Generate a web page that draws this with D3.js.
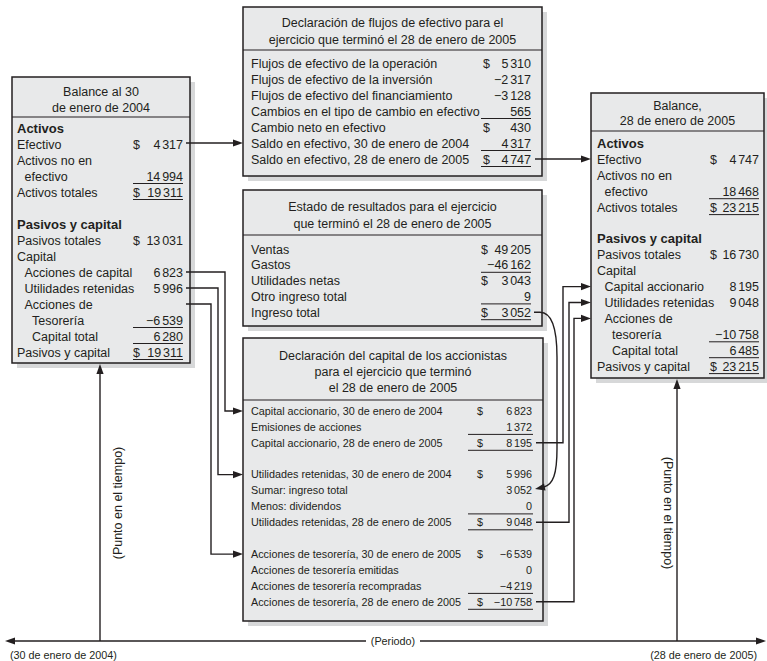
<!DOCTYPE html>
<html><head><meta charset="utf-8">
<script src="https://cdn.jsdelivr.net/npm/d3@7"></script>
<style>
body{margin:0;background:#fff}
svg{display:block}
text{font-family:Arial,"Liberation Sans",Helvetica,sans-serif;fill:#231f20}
.bold{font-family:"Liberation Sans Narrow","Arial Narrow",Arial,sans-serif;font-weight:bold}
</style>
</head><body>
<svg id="c" width="767" height="661"></svg>
<script>
// ================= DATA =================
const bal04Title  = ["Balance al 30", "de enero de 2004"];
const bal04Labels = ["Activos","Efectivo","Activos no en","efectivo","Activos totales","","Pasivos y capital","Pasivos totales","Capital","Acciones de capital","Utilidades retenidas","Acciones de","Tesorería","Capital total","Pasivos y capital"];
const bal04Values = [null,4317,null,14994,19311,null,null,13031,null,6823,5996,null,-6539,6280,19311];
const bal04Dollar = [0,1,0,0,1,0,0,1,0,0,0,0,0,0,1];
const bal04Under  = [0,0,0,1,1,0,0,0,0,0,0,0,1,1,1];
const bal04Indent = [0,0,0,1,0,0,0,0,0,1,1,1,2,2,0];
const bal04Bold   = [1,0,0,0,0,0,1,0,0,0,0,0,0,0,0];

const cashTitle  = ["Declaración de flujos de efectivo para el", "ejercicio que terminó el 28 de enero de 2005"];
const cashLabels = ["Flujos de efectivo de la operación","Flujos de efectivo de la inversión","Flujos de efectivo del financiamiento","Cambios en el tipo de cambio en efectivo","Cambio neto en efectivo","Saldo en efectivo, 30 de enero de 2004","Saldo en efectivo, 28 de enero de 2005"];
const cashValues = [5310,-2317,-3128,565,430,4317,4747];
const cashDollar = [1,0,0,0,1,0,1];
const cashUnder  = [0,0,0,1,0,1,1];

const incTitle  = ["Estado de resultados para el ejercicio", "que terminó el 28 de enero de 2005"];
const incLabels = ["Ventas","Gastos","Utilidades netas","Otro ingreso total","Ingreso total"];
const incValues = [49205,-46162,3043,9,3052];
const incDollar = [1,0,1,0,1];
const incUnder  = [0,1,0,1,1];

const eqTitle  = ["Declaración del capital de los accionistas", "para el ejercicio que terminó", "el 28 de enero de 2005"];
const eqLabels = ["Capital accionario, 30 de enero de 2004","Emisiones de acciones","Capital accionario, 28 de enero de 2005","","Utilidades retenidas, 30 de enero de 2004","Sumar: ingreso total","Menos: dividendos","Utilidades retenidas, 28 de enero de 2005","","Acciones de tesorería, 30 de enero de 2005","Acciones de tesorería emitidas","Acciones de tesorería recompradas","Acciones de tesorería, 28 de enero de 2005"];
const eqValues = [6823,1372,8195,null,5996,3052,0,9048,null,-6539,0,-4219,-10758];
const eqDollar = [1,0,1,0,1,0,0,1,0,1,0,0,1];
const eqUnder  = [0,1,1,0,0,0,1,1,0,0,0,1,1];

const bal05Title  = ["Balance,", "28 de enero de 2005"];
const bal05Labels = ["Activos","Efectivo","Activos no en","efectivo","Activos totales","","Pasivos y capital","Pasivos totales","Capital","Capital accionario","Utilidades retenidas","Acciones de","tesorería","Capital total","Pasivos y capital"];
const bal05Values = [null,4747,null,18468,23215,null,null,16730,null,8195,9048,null,-10758,6485,23215];
const bal05Dollar = [0,1,0,0,1,0,0,1,0,0,0,0,0,0,1];
const bal05Under  = [0,0,0,1,1,0,0,0,0,0,0,0,1,1,1];
const bal05Indent = [0,0,0,1,0,0,0,0,0,1,1,1,2,2,0];
const bal05Bold   = [1,0,0,0,0,0,1,0,0,0,0,0,0,0,0];

const timeLabels = ["(30 de enero de 2004)", "(Periodo)", "(28 de enero de 2005)"];
const pointLabel = "(Punto en el tiempo)";

// ================= DRAW =================
const svg = d3.select("#c");
const INK = "#231f20", FILL = "#e8e9ea", SHADOW = "#d7d8d9";
const intFmt = d3.format("d");

function setNum(t, v){
  const s = intFmt(Math.abs(v)), neg = v < 0 ? "\u2212" : "";
  if(s.length > 3){
    t.append("tspan").text(neg + s.slice(0, s.length-3));
    t.append("tspan").attr("dx", 1.8).text(s.slice(-3));
  } else t.text(neg + s);
}

function arrow(g, tx, ty, ang){
  const a = ang*Math.PI/180, L = 10, hw = 3.6;
  const bx = tx - L*Math.cos(a), by = ty - L*Math.sin(a);
  const px = -Math.sin(a)*hw, py = Math.cos(a)*hw;
  g.append("path").attr("d", `M${tx},${ty}L${bx+px},${by+py}L${bx-px},${by-py}Z`).attr("fill", INK);
}

function drawBox(c, title, labels, values, dollar, under, indent, bold){
  const g = svg.append("g");
  g.append("rect").attr("x", c.x+5).attr("y", c.y+5).attr("width", c.w).attr("height", c.h).attr("fill", SHADOW);
  g.append("rect").attr("x", c.x).attr("y", c.y).attr("width", c.w).attr("height", c.h)
    .attr("fill", FILL).attr("stroke", INK).attr("stroke-width", 1.5);
  g.append("line").attr("x1", c.x).attr("x2", c.x+c.w).attr("y1", c.sep).attr("y2", c.sep)
    .attr("stroke", INK).attr("stroke-width", 1.2);
  const ty = d3.scaleLinear().domain([0,1]).range([c.t0, c.t0+c.tdy]);
  g.selectAll(null).data(title).join("text")
    .attr("x", c.x + c.w/2).attr("y", (d,i)=>ty(i)+4.5).attr("text-anchor","middle")
    .style("font-size","12.5px").text(d=>d);
  const y = d3.scaleLinear().domain([0,1]).range([c.y0, c.y0+c.dy]);
  const fs = c.fs, base = fs*0.36;
  labels.forEach((lab,i)=>{
    if(lab){
      const t = g.append("text").attr("x", c.lx + (indent ? indent[i]*c.ind : 0)).attr("y", y(i)+base)
        .style("font-size", fs+"px").text(lab);
      if(bold && bold[i]) t.attr("class","bold").style("font-size", (fs+0.5)+"px");
    }
    if(values[i] !== null){
      const t = g.append("text").attr("x", c.vr).attr("y", y(i)+base).attr("text-anchor","end")
        .style("font-size", fs+"px");
      setNum(t, values[i]);
    }
    if(dollar[i]){
      g.append("text").attr("x", c.dx).attr("y", y(i)+base).style("font-size", fs+"px").text("$");
    }
    if(under[i]){
      g.append("line").attr("x1", c.u0).attr("x2", c.u1).attr("y1", y(i)+7.5).attr("y2", y(i)+7.5)
        .attr("stroke", INK).attr("stroke-width", 1);
    }
  });
  return y;
}

const B04 = {x:12, y:77, w:178, h:286, sep:117, t0:91.5, tdy:15.5, y0:128, dy:16, lx:17, ind:7.5, dx:133, vr:183, u0:133, u1:183, fs:12.5};
const CF  = {x:243, y:7, w:299, h:169, sep:50, t0:22.5, tdy:17, y0:63, dy:16, lx:251, dx:483, vr:531, u0:481, u1:531, fs:12.5};
const IS  = {x:243, y:190, w:299, h:136, sep:235, t0:206, tdy:17, y0:249, dy:15.8, lx:251, dx:481, vr:531, u0:481, u1:531, fs:12.5};
const EQ  = {x:243, y:338, w:300, h:283, sep:400, t0:355, tdy:16, y0:411, dy:15.9, lx:251, dx:477, vr:532, u0:468, u1:533, fs:10.8};
const B05 = {x:591, y:93, w:173, h:285, sep:131, t0:105, tdy:15.5, y0:143.5, dy:15.9, lx:597, ind:7.5, dx:710, vr:759, u0:709, u1:759, fs:12.5};

const y04 = drawBox(B04, bal04Title, bal04Labels, bal04Values, bal04Dollar, bal04Under, bal04Indent, bal04Bold);
const yCF = drawBox(CF, cashTitle, cashLabels, cashValues, cashDollar, cashUnder);
const yIS = drawBox(IS, incTitle, incLabels, incValues, incDollar, incUnder);
const yEQ = drawBox(EQ, eqTitle, eqLabels, eqValues, eqDollar, eqUnder);
const y05 = drawBox(B05, bal05Title, bal05Labels, bal05Values, bal05Dollar, bal05Under, bal05Indent, bal05Bold);

// ---------- connectors ----------
const gc = svg.append("g").attr("fill","none");
const LW = 1.4;
function poly(pts){
  gc.append("path").attr("d", d3.line()(pts)).attr("stroke", INK).attr("stroke-width", LW).attr("fill","none");
}
{
  const yy = yCF(5);
  poly([[186, yy],[CF.x-9, yy]]); arrow(gc, CF.x, yy, 0);
  const y2 = yCF(6);
  poly([[535, y2],[B05.x-9, y2]]); arrow(gc, B05.x, y2, 0);
}
[[9,0,225],[10,4,218],[11,9,211]].forEach(([a,b,xe])=>{
  const ya = y04(a), yb = yEQ(b);
  poly([[186, ya],[xe, ya],[xe, yb],[EQ.x-9, yb]]); arrow(gc, EQ.x, yb, 0);
});
[[2,9,563],[7,10,569],[12,11,574]].forEach(([a,b,xe])=>{
  const ya = yEQ(a), yb = y05(b);
  poly([[536, ya],[xe, ya],[xe, yb],[B05.x-9, yb]]); arrow(gc, B05.x, yb, 0);
});
{
  const ya = yIS(4), yb = yEQ(5) - 2, xc = 557;
  const p = d3.path();
  p.moveTo(534, ya); p.lineTo(540, ya);
  p.bezierCurveTo(551, ya, xc, ya+14, xc, ya+45);
  p.lineTo(xc, yb-40);
  p.bezierCurveTo(xc, yb-14, 553, yb-4, 544, yb-1.5);
  gc.append("path").attr("d", p.toString()).attr("stroke", INK).attr("stroke-width", LW);
  arrow(gc, 535, yb+0.5, 168);
}

// ---------- time axis ----------
const ga = svg.append("g");
const axY = 641;
const xT = d3.scaleLinear().domain([0,1]).range([100, 677]);
ga.append("line").attr("x1", 14).attr("x2", 366).attr("y1", axY).attr("y2", axY).attr("stroke", INK).attr("stroke-width", LW);
ga.append("line").attr("x1", 420).attr("x2", 758).attr("y1", axY).attr("y2", axY).attr("stroke", INK).attr("stroke-width", LW);
arrow(ga, 5, axY, 180); arrow(ga, 766, axY, 0);
ga.append("text").attr("x", 393).attr("y", axY+3.9).attr("text-anchor","middle").style("font-size","10.8px").text(timeLabels[1]);
ga.append("text").attr("x", 10).attr("y", 658.5).style("font-size","10.8px").text(timeLabels[0]);
ga.append("text").attr("x", 757).attr("y", 658.5).attr("text-anchor","end").style("font-size","10.8px").text(timeLabels[2]);
[[0, B04.y+B04.h+1],[1, B05.y+B05.h+1]].forEach(([k,top])=>{
  const x = xT(k);
  ga.append("line").attr("x1", x).attr("x2", x).attr("y1", axY).attr("y2", top+9).attr("stroke", INK).attr("stroke-width", LW);
  arrow(ga, x, top, -90);
});
ga.append("text").attr("transform", `translate(${xT(0)+22},503) rotate(-90)`).attr("text-anchor","middle").style("font-size","12.5px").text(pointLabel);
ga.append("text").attr("transform", `translate(${xT(1)-13},513) rotate(90)`).attr("text-anchor","middle").style("font-size","12.5px").text(pointLabel);
</script>
</body></html>
